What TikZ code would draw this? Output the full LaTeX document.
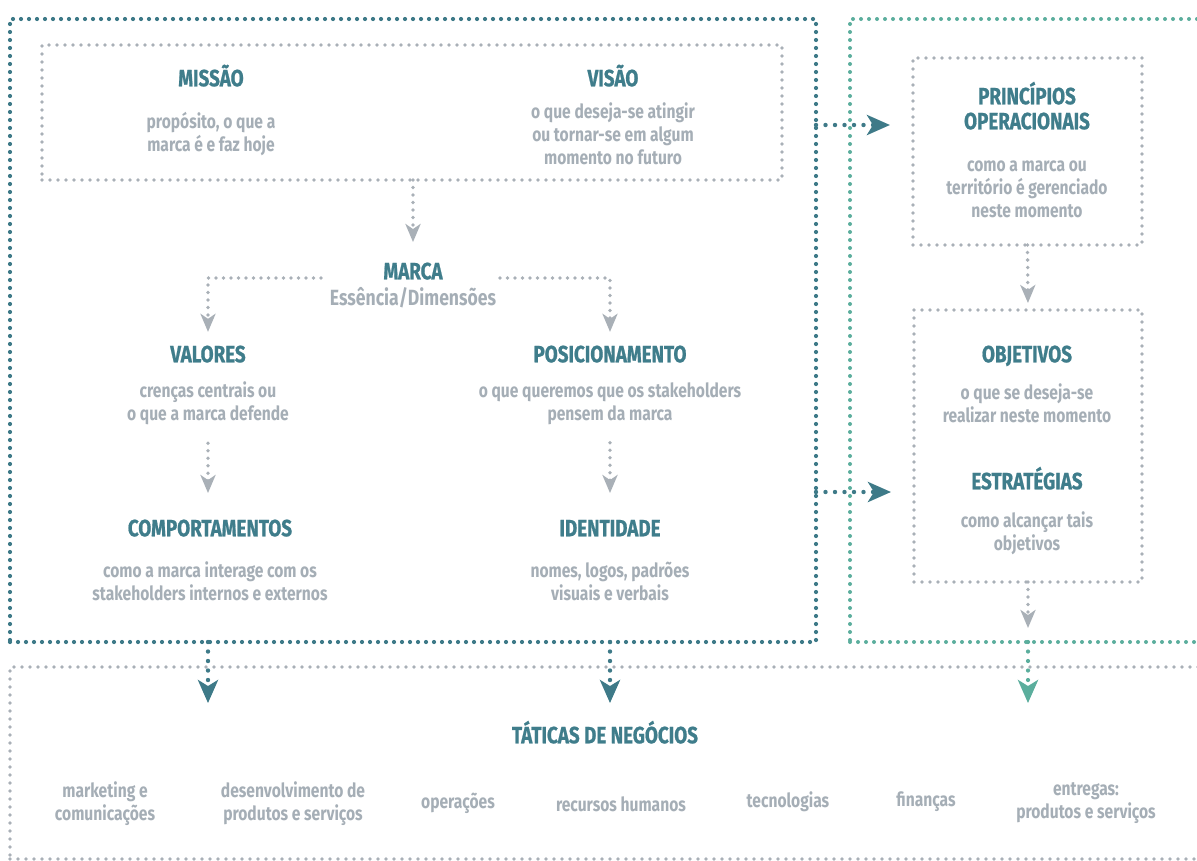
\documentclass[tikz,border=0pt]{standalone}
\usepackage{fontspec}
\newfontfamily\diagfont[FakeStretch=0.8]{Fira Sans}
\newfontfamily\headfont[FakeStretch=0.8,FakeBold=0.8]{Fira Sans}
\usetikzlibrary{arrows.meta,calc}
\definecolor{ttlcol}{HTML}{3F7D8B}
\definecolor{desccol}{HTML}{A5AEB6}
\definecolor{lineL}{HTML}{3E7A88}
\definecolor{lineR}{HTML}{5BAE9D}
\definecolor{linegray}{HTML}{A9B0B7}
\begin{document}
\begin{tikzpicture}[x=1pt,y=-1pt,
  ttl/.style={font=\headfont\bfseries\fontsize{23.5}{26}\selectfont, text=ttlcol,
    inner sep=0pt, text height=16.5pt, text depth=0pt},
  desc/.style={font=\diagfont\bfseries\fontsize{19.5}{23}\selectfont, text=desccol,
    inner sep=0pt, align=center},
  dotbox/.style={inner sep=0pt, outer sep=0pt, line cap=round},
  frameL/.style={dotbox, draw=lineL, line width=4.2pt, dash pattern=on 0pt off 8pt},
  frameR/.style={dotbox, draw=lineR, line width=4pt, dash pattern=on 0pt off 8pt},
  frameG/.style={dotbox, draw=linegray, line width=3.8pt, dash pattern=on 0pt off 8pt},
  grayarrow/.style={draw=linegray, line width=3.8pt, line cap=round,
    dash pattern=on 0pt off 7.5pt,
    -{Stealth[length=18pt,width=15pt,inset=5pt,fill=linegray]}},
  tealarrow/.style={draw=lineL, line width=4.4pt, line cap=round,
    dash pattern=on 0pt off 9.5pt,
    -{Stealth[length=23pt,width=20pt,inset=6pt,fill=lineL]}},
  greenarrow/.style={draw=lineR, line width=4.2pt, line cap=round,
    dash pattern=on 0pt off 9.5pt,
    -{Stealth[length=23pt,width=20pt,inset=6pt,fill=lineR]}}
]
\useasboundingbox (0,0) rectangle (1197,860);
\clip (0,0) rectangle (1197,860);
\fill[white] (0,0) rectangle (1197,860);

% frames
\node[frameL, minimum width=806pt, minimum height=623pt] (outerL) at (413,330.5) {};
\node[frameR, minimum width=370pt, minimum height=623pt] (outerR) at (1035,330.5) {};
\node[frameG, minimum width=1210pt, minimum height=192pt] (bottombox) at (615,763) {};
\node[frameG, minimum width=740pt, minimum height=135pt] (topbox) at (412,112.5) {};
\node[frameG, minimum width=229pt, minimum height=187pt] (princbox) at (1027.5,151.5) {};
\node[frameG, minimum width=228pt, minimum height=272pt] (objbox) at (1028,446) {};

% mission and vision
\node[ttl] (missao) at (211,78) {MISSÃO};
\node[desc] (missaod) at (211,134.5) {propósito, o que a\\marca é e faz hoje};
\node[ttl] (visao) at (613,78) {VISÃO};
\node[desc] (visaod) at (613,133.5) {o que deseja-se atingir\\ou tornar-se em algum\\momento no futuro};

% brand core
\node[ttl] (marca) at (413,271) {MARCA};
\node[desc, font=\diagfont\bfseries\fontsize{22}{24}\selectfont] (essencia) at (413,298) {Essência/Dimensões};

\node[ttl] (valores) at (208,354) {VALORES};
\node[desc] (valoresd) at (208,403.5) {crenças centrais ou\\o que a marca defende};
\node[ttl] (posic) at (610,354) {POSICIONAMENTO};
\node[desc] (posicd) at (610,403.5) {o que queremos que os stakeholders\\pensem da marca};

\node[ttl] (comport) at (210,528) {COMPORTAMENTOS};
\node[desc] (comportd) at (210,581.5) {como a marca interage com os\\stakeholders internos e externos};
\node[ttl] (ident) at (610,528) {IDENTIDADE};
\node[desc] (identd) at (610,581.5) {nomes, logos, padrões\\visuais e verbais};

% operational column
\node[ttl] (princ1) at (1027,96) {PRINCÍPIOS};
\node[ttl] (princ2) at (1027,121) {OPERACIONAIS};
\node[desc] (princd) at (1027,189) {como a marca ou\\território é gerenciado\\neste momento};
\node[ttl] (objetivos) at (1027,354) {OBJETIVOS};
\node[desc] (objetivosd) at (1027,403.5) {o que se deseja-se\\realizar neste momento};
\node[ttl] (estrat) at (1027,481) {ESTRATÉGIAS};
\node[desc] (estratd) at (1027,533) {como alcançar tais\\objetivos};

% business tactics
\node[ttl] (taticas) at (605,735) {TÁTICAS DE NEGÓCIOS};
\node[desc] (mkt) at (105,803.5) {marketing e\\comunicações};
\node[desc] (dev) at (293,803.5) {desenvolvimento de\\produtos e serviços};
\node[desc] (oper) at (458,803) {operações};
\node[desc] (rh) at (621,804) {recursos humanos};
\node[desc] (tec) at (788,802) {tecnologias};
\node[desc] (fin) at (926,802) {finanças};
\node[desc] (entr) at (1086,803.5) {entregas:\\produtos e serviços};

% connectors
\coordinate (mL) at (321,278);
\coordinate (mR) at (500,278);
\coordinate (h1) at (816,125);
\coordinate (h2) at (816,492);

\draw[grayarrow, shorten >=20.5pt] (topbox.south -| marca) -- (marca.north);
\draw[grayarrow, shorten >=13.7pt] (mL) -| (valores.north);
\draw[grayarrow, shorten >=13.7pt] (mR) -| (posic.north);
\draw[grayarrow, shorten <=18pt, shorten >=26.5pt] (valoresd.south) -- (valoresd.south |- comport.north);
\draw[grayarrow, shorten <=18pt, shorten >=26.5pt] (posicd.south) -- (posicd.south |- ident.north);
\draw[grayarrow, shorten >=7pt] (princbox.south) -- (objbox.north);
\draw[grayarrow, shorten >=14pt] (objbox.south) -- (objbox.south |- outerR.south);

\draw[tealarrow, shorten >=23pt] (h1) -- (h1 -| princbox.west);
\draw[tealarrow, shorten >=23pt] (h2) -- (h2 -| objbox.west);
\draw[tealarrow, shorten >=23.5pt] (outerL.south -| valores) -- (taticas.north -| valores);
\draw[tealarrow, shorten >=23.5pt] (outerL.south -| posic) -- (taticas.north -| posic);
\draw[greenarrow, shorten >=23.5pt] (outerR.south -| objbox) -- (taticas.north -| objbox);
\end{tikzpicture}
\end{document}
